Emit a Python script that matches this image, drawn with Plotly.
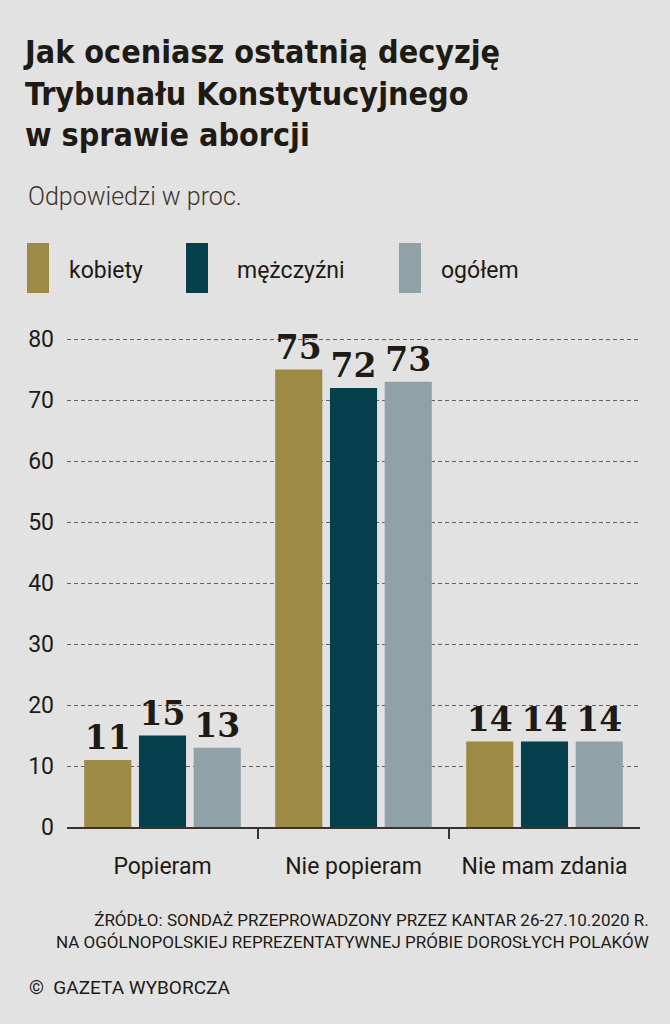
import plotly.graph_objects as go

# data
categories = ["Popieram", "Nie popieram", "Nie mam zdania"]
series_names = ["kobiety", "mężczyźni", "ogółem"]
kobiety = [11, 75, 14]
mezczyzni = [15, 72, 14]
ogolem = [13, 73, 14]
y_ticks = [0, 10, 20, 30, 40, 50, 60, 70, 80]

colors = ["#9c8a45", "#06404d", "#91a1a8"]
bg = "#e2e2e2"
ink = "#1e1a14"

W, H = 670, 1024
L, R, T, B = 67, 30, 333, 197
pw, ph = W - L - R, H - T - B


def px_x(x):
    return (x - L) / pw


def px_y(y):
    return (H - B - y) / ph


fig = go.Figure()
for name, vals, col in zip(series_names, [kobiety, mezczyzni, ogolem], colors):
    fig.add_trace(go.Bar(
        x=categories, y=vals, name=name,
        marker=dict(color=col, line=dict(width=0)),
        text=vals, textposition="outside",
        textfont=dict(family="DejaVu Serif", size=33, color=ink, weight="bold"),
        cliponaxis=False, showlegend=False,
    ))

# invisible helper trace so the second axis (category boundary ticks) renders
fig.add_trace(go.Scatter(x=[0], y=[0], xaxis="x2", mode="markers",
                         marker=dict(opacity=0), showlegend=False, hoverinfo="skip"))

fig.update_layout(
    width=W, height=H,
    paper_bgcolor=bg, plot_bgcolor=bg,
    margin=dict(l=L, r=R, t=T, b=B),
    barmode="group", bargap=0.14, bargroupgap=0.14,
    font=dict(family="Roboto", color=ink),
    title=dict(
        text="Jak oceniasz ostatnią decyzję<br>Trybunału Konstytucyjnego<br>w sprawie aborcji",
        xref="container", yref="container", x=25 / W, y=1 - 63 / H,
        xanchor="left", yanchor="top",
        font=dict(family="DejaVu Sans Condensed, Roboto",
                  size=32, color=ink, weight="bold"),
    ),
    xaxis=dict(
        showgrid=False, ticks="", showline=True, linecolor="#3a342c", linewidth=2,
        tickfont=dict(size=23, color=ink), ticklabelstandoff=17,
    ),
    xaxis2=dict(
        overlaying="x", range=[-0.5, 2.5], side="bottom", anchor="y",
        tickvals=[0.5, 1.5], showticklabels=False, ticks="outside",
        ticklen=11, tickwidth=2, tickcolor="#3a342c", showgrid=False, showline=False,
        zeroline=False,
    ),
    yaxis=dict(
        range=[0, 81], tickvals=y_ticks, showgrid=True, gridcolor="#6a6158",
        griddash="4px,3px", gridwidth=1, zeroline=False, showline=False, ticks="",
        tickfont=dict(size=23, color=ink), ticklabelstandoff=12,
    ),
)

# legend made of swatches + labels (positions in page pixels)
legend_swatch_x = [27, 186, 399]
legend_text_x = [67, 235, 439]
for name, col, sx, tx in zip(series_names, colors, legend_swatch_x, legend_text_x):
    fig.add_shape(type="rect", xref="paper", yref="paper",
                  x0=px_x(sx), x1=px_x(sx + 22), y0=px_y(293), y1=px_y(243),
                  fillcolor=col, line=dict(width=0))
    fig.add_annotation(text=name, xref="paper", yref="paper", x=px_x(tx), y=px_y(270),
                       xanchor="left", yanchor="middle", showarrow=False,
                       font=dict(size=23, color=ink))

fig.add_annotation(text="Odpowiedzi w proc.", xref="paper", yref="paper",
                   x=px_x(26), y=px_y(196), xanchor="left", yanchor="middle",
                   showarrow=False, font=dict(size=25, color="#3a342c", weight=300))

fig.add_annotation(
    text="ŹRÓDŁO: SONDAŻ PRZEPROWADZONY PRZEZ KANTAR 26-27.10.2020 R.<br>"
         "NA OGÓLNOPOLSKIEJ REPREZENTATYWNEJ PRÓBIE DOROSŁYCH POLAKÓW",
    xref="paper", yref="paper", x=px_x(651), y=px_y(931), xanchor="right",
    yanchor="middle", align="right", showarrow=False,
    font=dict(size=17, color=ink))

fig.add_annotation(text="©  GAZETA WYBORCZA", xref="paper", yref="paper",
                   x=px_x(27), y=px_y(987), xanchor="left", yanchor="middle",
                   showarrow=False, font=dict(size=19, color=ink))

# drop the default page margin so the figure fills the window
fig.write_html("out.html", config={"displayModeBar": False},
               post_script="document.body.style.margin='0';document.body.style.background='#e2e2e2';")
